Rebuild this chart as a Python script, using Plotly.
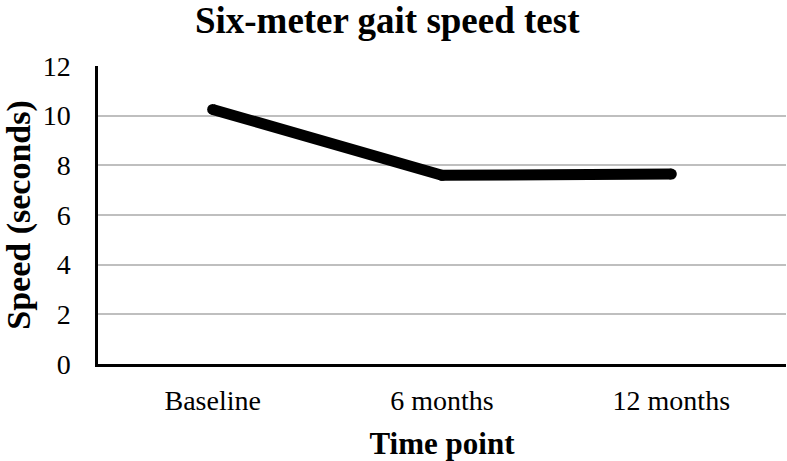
import plotly.graph_objects as go

# data
time_points = ["Baseline", "6 months", "12 months"]
speed_seconds = [10.25, 7.6, 7.65]
y_ticks = [0, 2, 4, 6, 8, 10, 12]

serif = "Liberation Serif, Times New Roman, serif"

fig = go.Figure()
fig.add_trace(
    go.Scatter(
        x=time_points,
        y=speed_seconds,
        mode="lines+markers",
        line=dict(color="black", width=11),
        marker=dict(color="black", size=11),  # fakes the round caps
        showlegend=False,
    )
)

fig.update_layout(
    width=787,
    height=461,
    margin=dict(l=90, r=1, t=66, b=97),
    paper_bgcolor="white",
    plot_bgcolor="white",
    font=dict(family=serif, color="black", size=28),
    title=dict(
        text="<b>Six-meter gait speed test</b>",
        font=dict(family=serif, size=37, color="black"),
        x=0.492,
        xref="container",
        xanchor="center",
        y=0.985,
        yref="container",
        yanchor="top",
    ),
)

fig.update_xaxes(
    type="category",
    range=[-0.5, 2.5],
    showgrid=False,
    showline=True,
    linecolor="black",
    linewidth=2.5,
    ticks="",
    ticklabelstandoff=10,
    tickfont=dict(family=serif, size=28),
    title=dict(text="<b>Time point</b>", font=dict(family=serif, size=31), standoff=18),
)

fig.update_yaxes(
    range=[0, 12],
    tickvals=y_ticks,
    showgrid=True,
    gridcolor="#bfbfbf",
    gridwidth=1.5,
    zeroline=False,
    showline=True,
    linecolor="black",
    linewidth=2.5,
    ticks="",
    ticklabelstandoff=19,
    tickfont=dict(family=serif, size=28),
    title=dict(text="<b>Speed (seconds)</b>", font=dict(family=serif, size=34), standoff=18),
)

# the page body has an 8px default margin; drop it so the figure sits at 0,0
fig.write_html(
    "out.html",
    config=dict(displayModeBar=False),
    post_script="document.body.style.margin='0';",
)
